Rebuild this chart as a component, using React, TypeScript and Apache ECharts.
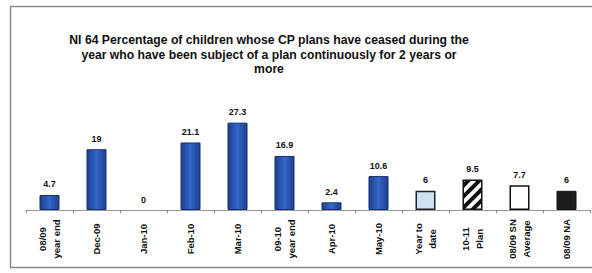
import React, { useEffect, useRef } from "react";
import * as echarts from "echarts";

const categories = [
  "08/09\nyear end",
  "Dec-09",
  "Jan-10",
  "Feb-10",
  "Mar-10",
  "09-10\nyear end",
  "Apr-10",
  "May-10",
  "Year to\ndate",
  "10-11\nPlan",
  "08/09 SN\nAverage",
  "08/09 NA",
];
const values = [4.7, 19, 0, 21.1, 27.3, 16.9, 2.4, 10.6, 6, 9.5, 7.7, 6];
const titleLines = [
  "NI 64 Percentage of children whose CP plans have ceased during the",
  "year who have been subject of a plan continuously for 2 years or",
  "more",
];

const blue = {
  type: "linear",
  x: 0,
  y: 0,
  x2: 1,
  y2: 0,
  colorStops: [
    { offset: 0, color: "#1d3f8c" },
    { offset: 0.5, color: "#3466cc" },
    { offset: 1, color: "#1d3f8c" },
  ],
};

function makeStripes(): any {
  const s = 11;
  const c = document.createElement("canvas");
  c.width = s;
  c.height = s;
  const g = c.getContext("2d");
  if (g) {
    g.fillStyle = "#ffffff";
    g.fillRect(0, 0, s, s);
    g.strokeStyle = "#111111";
    g.lineWidth = 4;
    g.lineCap = "square";
    g.beginPath();
    g.moveTo(-3, s + 3);
    g.lineTo(s + 3, -3);
    g.moveTo(-3, 3);
    g.lineTo(3, -3);
    g.moveTo(s - 3, s + 3);
    g.lineTo(s + 3, s - 3);
    g.stroke();
  }
  return { image: c, repeat: "repeat" };
}

function styleFor(i: number, v: number, stripes: any) {
  if (v === 0) return { color: blue, borderWidth: 0 };
  if (i === 8) return { color: "#cfe2f3", borderColor: "#222", borderWidth: 1.5 };
  if (i === 9) return { color: stripes, borderColor: "#111", borderWidth: 1.5 };
  if (i === 10) return { color: "#ffffff", borderColor: "#111", borderWidth: 1.5 };
  if (i === 11) return { color: "#1c1c1c", borderColor: "#111", borderWidth: 1 };
  return { color: blue, borderColor: "#17306a", borderWidth: 1 };
}

export default function App() {
  const ref = useRef<HTMLDivElement>(null);
  useEffect(() => {
    if (!ref.current) return;
    const chart = echarts.init(ref.current, null, { renderer: "svg" });
    const stripes = makeStripes();
    chart.setOption({
      animation: false,
      aria: { enabled: false },
      grid: { left: 26, right: 2, top: 114, bottom: 63 },
      graphic: [
        {
          type: "rect",
          shape: { x: 10.5, y: 6.5, width: 600, height: 261 },
          style: { fill: "none", stroke: "#8a8a8a", lineWidth: 1.5 },
        },
        {
          type: "text",
          x: 269,
          y: 33,
          style: {
            text: titleLines.join("\n"),
            textAlign: "center",
            fontFamily: "Liberation Sans, Arial, sans-serif",
            fontWeight: "bold",
            fontSize: 12.2,
            lineHeight: 14.5,
            fill: "#111",
          },
        },
      ],
      xAxis: {
        type: "category",
        data: categories,
        axisLine: { lineStyle: { color: "#999", width: 1 } },
        axisTick: { show: true, length: 3, lineStyle: { color: "#888" } },
        axisLabel: {
          rotate: 90,
          interval: 0,
          align: "center",
          verticalAlign: "middle",
          margin: 29,
          fontFamily: "Liberation Sans, Arial, sans-serif",
          fontWeight: "bold",
          fontSize: 9.5,
          lineHeight: 14,
          color: "#111",
        },
      },
      yAxis: {
        type: "value",
        min: 0,
        max: 30,
        show: false,
        splitLine: { show: false },
      },
      series: [
        {
          type: "bar",
          barWidth: 20,
          data: values.map((v, i) => ({ value: v, itemStyle: styleFor(i, v, stripes) })),
          label: {
            show: true,
            position: "top",
            distance: 6,
            fontFamily: "Liberation Sans, Arial, sans-serif",
            fontWeight: "bold",
            fontSize: 9,
            color: "#111",
          },
        },
      ],
    });
    return () => chart.dispose();
  }, []);
  return (
    <div
      ref={ref}
      style={{ position: "absolute", left: 0, top: 0, width: 592, height: 273, background: "#fff" }}
    />
  );
}
